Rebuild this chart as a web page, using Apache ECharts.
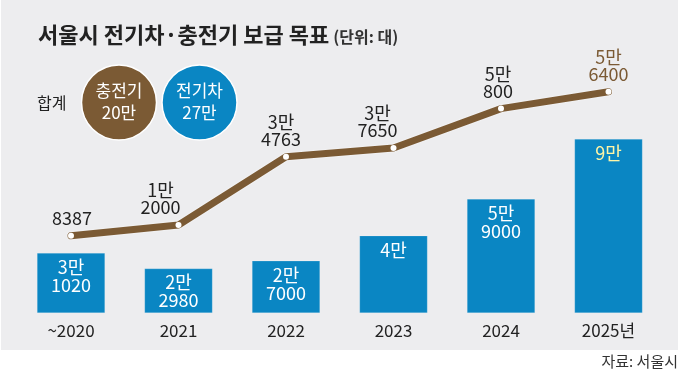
<!DOCTYPE html>
<html>
<head>
<meta charset="utf-8">
<script src="https://cdn.jsdelivr.net/npm/echarts@6/dist/echarts.min.js"></script>
<style>
html,body{margin:0;padding:0;background:#fff;}
#c{width:680px;height:373px;}
</style>
</head>
<body>
<div id="c"></div>
<script>
var categories = ['~2020', '2021', '2022', '2023', '2024', '2025년'];
var evTargets = [31020, 22980, 27000, 40000, 59000, 90000];
var chargerTargets = [8387, 12000, 34763, 37650, 50800, 56400];
var totalLabels = ['충전기\n20만', '전기차\n27만'];

var FONT = '"Noto Sans CJK KR", "Noto Sans", sans-serif';
var BROWN = '#7b5a34';
var BLUE = '#0a86c3';
var labelShiftX = [1, -18, -5, -16, -3, 0];

function kor(v) {
  var man = Math.floor(v / 10000), rest = v % 10000;
  if (man === 0) return String(rest);
  return man + '만' + (rest ? '\n' + rest : '');
}

var chart = echarts.init(document.getElementById('c'), null, {renderer: 'canvas'});
chart.setOption({
  backgroundColor: '#fff',
  animation: false,
  textStyle: {fontFamily: FONT},
  graphic: [
    {type: 'rect', z: -10, shape: {x: 1, y: 0, width: 677, height: 350}, style: {fill: '#ededef'}},
    {type: 'text', left: 37, top: 95, style: {text: '합계', font: '16px ' + FONT, fill: '#222'}},
    {type: 'circle', shape: {cx: 119, cy: 102.5, r: 37.5}, style: {fill: BROWN, stroke: '#fff', lineWidth: 1.5}},
    {type: 'text', x: 119, y: 102, style: {text: totalLabels[0], font: '17px ' + FONT, fill: '#fff', align: 'center', verticalAlign: 'middle', lineHeight: 22}},
    {type: 'circle', shape: {cx: 199.5, cy: 102.5, r: 37.5}, style: {fill: BLUE, stroke: '#fff', lineWidth: 1.5}},
    {type: 'text', x: 199.5, y: 102, style: {text: totalLabels[1], font: '17px ' + FONT, fill: '#fff', align: 'center', verticalAlign: 'middle', lineHeight: 22}},
    {type: 'text', right: 2, top: 354, style: {text: '자료: 서울시', font: '15px ' + FONT, fill: '#333'}}
  ],
  title: {
    left: 33, top: 19,
    text: '{a|서울시 전기차·충전기 보급 목표} {b|(단위: 대)}',
    textStyle: {
      rich: {
        a: {fontSize: 22, fontWeight: 'bold', color: '#222', fontFamily: FONT},
        b: {fontSize: 16, color: '#333', fontFamily: FONT, padding: [3, 0, 0, 0]}
      }
    }
  },
  grid: {left: 17.25, right: 17.75, top: 40, bottom: 60},
  xAxis: {
    type: 'category', data: categories, boundaryGap: true,
    axisLine: {show: false}, axisTick: {show: false},
    axisLabel: {fontSize: 17, color: '#222', margin: 9, fontFamily: FONT}
  },
  yAxis: [
    {type: 'value', min: 0, max: 141200, show: false, splitLine: {show: false}},
    {type: 'value', min: -17333, max: 73667, show: false, splitLine: {show: false}}
  ],
  series: [
    {
      type: 'bar', yAxisIndex: 0, barWidth: 68,
      data: evTargets.map(function (v, i) {
        var d = {value: v};
        if (i === evTargets.length - 1) d.label = {color: '#fff5a6'};
        return d;
      }),
      itemStyle: {color: BLUE, borderColor: 'rgba(255,255,255,0.35)', borderWidth: 0.5},
      label: {
        show: true, position: 'insideTop', distance: 5,
        fontSize: 18, lineHeight: 18, color: '#fff', fontFamily: FONT,
        formatter: function (p) { return kor(p.value); }
      }
    },
    {
      type: 'line', yAxisIndex: 1,
      data: chargerTargets.map(function (v, i) {
        var d = {value: v, label: {offset: [labelShiftX[i], 0]}};
        if (i === chargerTargets.length - 1) d.label.color = BROWN;
        return d;
      }),
      lineStyle: {color: BROWN, width: 7, cap: 'round', join: 'round', shadowColor: 'rgba(255,255,255,0.9)', shadowBlur: 2},
      symbol: 'circle', symbolSize: 6,
      itemStyle: {color: '#fff', borderWidth: 0},
      label: {
        show: true, position: 'top', distance: 6,
        fontSize: 18, lineHeight: 17, color: '#222', fontFamily: FONT,
        formatter: function (p) { return kor(p.value); }
      },
      z: 3
    }
  ]
});
</script>
</body>
</html>
